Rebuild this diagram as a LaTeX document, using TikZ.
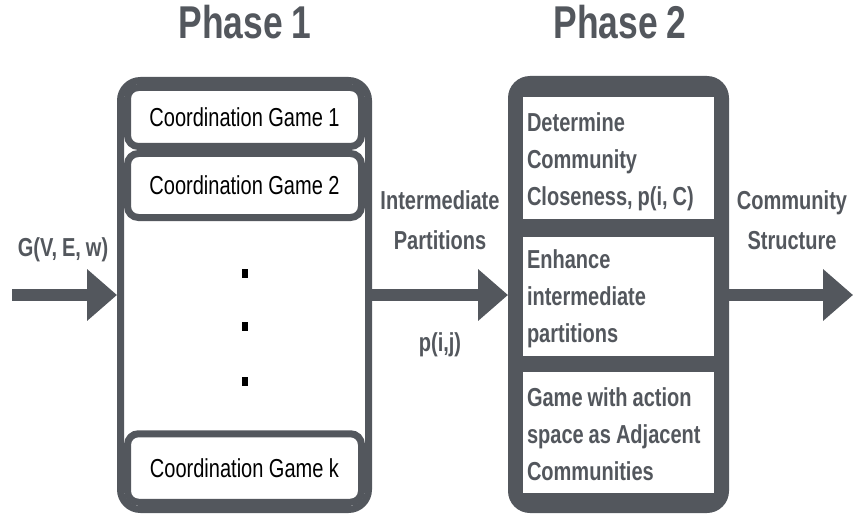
\documentclass[tikz,border=0pt]{standalone}
\usepackage{fontspec}
\setmainfont{Liberation Sans}[FakeStretch=0.77]
\usetikzlibrary{arrows.meta}
\definecolor{mygray}{RGB}{83,87,93}
\newcommand\myspaceskip[1]{\spaceskip=#1 plus 1pt minus 1pt\relax}
\begin{document}
\begin{tikzpicture}[x=1pt,y=-1pt,
  frame/.style={draw=mygray, line width=7pt, fill=white, rounded corners=20pt, inner sep=0pt, outer sep=3.5pt},
  game/.style={draw=mygray, line width=7pt, fill=white, rounded corners=11pt, minimum width=234pt, inner sep=0pt, font=\fontsize{26}{30}\selectfont\myspaceskip{5.5pt}, text=black},
  phasebox/.style={fill=mygray, rounded corners=22pt, inner sep=0pt, outer sep=0pt, minimum width=221pt, minimum height=437pt},
  stepbox/.style={fill=white, inner xsep=4pt, inner ysep=0pt, text width=183pt, align=flush left, text=mygray, font=\bfseries\fontsize{26}{37}\selectfont\myspaceskip{5pt}},
  lbl/.style={text=mygray, inner sep=0pt, font=\bfseries\fontsize{26}{40}\selectfont\myspaceskip{5pt}},
  title/.style={text=mygray, inner sep=0pt, font=\bfseries\fontsize{46}{50}\selectfont\myspaceskip{9pt}},
  dotbox/.style={fill=black, minimum width=6pt, minimum height=9pt, inner sep=0pt},
  bigarrow/.style={draw=mygray, line width=12pt, -{Triangle[length=30pt,width=50pt]}}
]
\useasboundingbox (0,0) rectangle (854,516);

% titles
\node[title] (ph1) at (245,22) {Phase 1};
\node[title] (ph2) at (620,22) {Phase 2};

% phase 1
\node[frame, minimum width=248pt, minimum height=429pt] (p1) at (244.5,295) {};
\node[game, minimum height=59pt] (g1) at (244.5,117) {Coordination Game 1};
\node[game, minimum height=64pt] (g2) at (244.5,185.5) {Coordination Game 2};
\node[game, minimum height=68.5pt] (gk) at (244.5,468) {Coordination Game k};
\node[dotbox] (d1) at (245,273) {};
\node[dotbox] (d2) at (245,326) {};
\node[dotbox] (d3) at (245,381) {};

% phase 2
\node[phasebox] (p2) at (618.5,294.5) {};
\node[stepbox, minimum height=122pt] (s1) at (618.5,158) {\rule{0pt}{26pt}Determine\\Community\\Closeness, p(i, C)};
\node[stepbox, minimum height=119pt] (s2) at (618.5,296.5) {\rule{0pt}{24pt}Enhance\\intermediate\\partitions};
\node[stepbox, minimum height=121pt] (s3) at (618.5,432.5) {\rule{0pt}{22pt}Game with action\\space as Adjacent\\Communities};

% labels
\node[lbl] (gl) at (63,250) {G(V, E, w)};
\node[lbl, align=center] (ip) at (440,220) {Intermediate\\Partitions};
\node[lbl] (pij) at (440,345) {p(i,j)};
\node[lbl, align=center] (cs) at (792,220) {Community\\Structure};

% arrows
\coordinate (gin) at (12,295);
\coordinate (cout) at (853,295);
\draw[bigarrow] (gin) -- (p1.west);
\draw[bigarrow] (p1.east) -- (p2.west |- p1.east);
\draw[bigarrow] (p2.east |- cout) -- (cout);
\end{tikzpicture}
\end{document}
